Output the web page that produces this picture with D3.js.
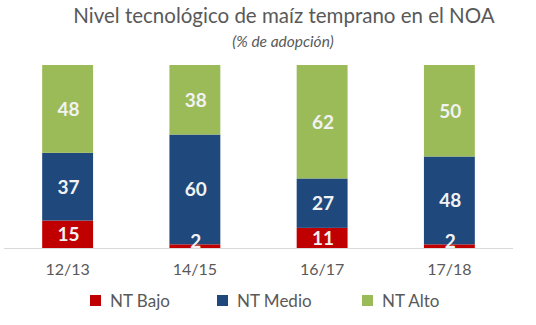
<!DOCTYPE html>
<html>
<head>
<meta charset="utf-8">
<script src="https://cdn.jsdelivr.net/npm/d3@7"></script>
<style>
  body { margin: 0; background: #fff; }
  text { font-family: Lato, "Open Sans", sans-serif; }
</style>
</head>
<body>
<svg id="chart" width="536" height="325"></svg>
<script>
const campaigns = ['12/13', '14/15', '16/17', '17/18'];
const seriesNames = ['NT Bajo', 'NT Medio', 'NT Alto'];
const ntBajo = [15, 2, 11, 2];
const ntMedio = [37, 60, 27, 48];
const ntAlto = [48, 38, 62, 50];
const colors = ['#C00000', '#1F497D', '#9BBB59'];

const rows = campaigns.map((c, i) => ({
  campaign: c, 'NT Bajo': ntBajo[i], 'NT Medio': ntMedio[i], 'NT Alto': ntAlto[i]
}));

const svg = d3.select('#chart');

const x = d3.scaleBand().domain(campaigns).range([4, 513]).paddingInner(0.6).paddingOuter(0.3);
const y = d3.scaleLinear().domain([0, 100]).range([248, 65]);
const color = d3.scaleOrdinal().domain(seriesNames).range(colors);

const stack = d3.stack().keys(seriesNames)(rows);

// title
svg.append('text')
  .attr('x', 284).attr('y', 23)
  .attr('text-anchor', 'middle')
  .attr('fill', '#595959')
  .style('font-size', '20.5px')
  .text('Nivel tecnológico de maíz temprano en el NOA');

svg.append('text')
  .attr('x', 283).attr('y', 47)
  .attr('text-anchor', 'middle')
  .attr('fill', '#595959')
  .style('font-size', '15.5px')
  .style('font-style', 'italic')
  .text('(% de adopción)');

const groups = svg.selectAll('g.series')
  .data(stack)
  .enter().append('g')
    .attr('class', 'series')
    .attr('fill', d => color(d.key));

groups.selectAll('rect')
  .data(d => d)
  .enter().append('rect')
    .attr('x', d => x(d.data.campaign))
    .attr('y', d => y(d[1]))
    .attr('width', x.bandwidth())
    .attr('height', d => y(d[0]) - y(d[1]));

// baseline
svg.append('line')
  .attr('x1', 4).attr('x2', 513)
  .attr('y1', y(0) + 0.5).attr('y2', y(0) + 0.5)
  .attr('stroke', '#D9D9D9');

// value labels on top of every segment
svg.append('g')
  .selectAll('text')
  .data(stack.flatMap(s => s))
  .enter().append('text')
    .attr('x', d => x(d.data.campaign) + x.bandwidth() / 2 + 1)
    .attr('y', d => Math.min((y(d[0]) + y(d[1])) / 2 + 7, 247.5))
    .attr('text-anchor', 'middle')
    .attr('fill', '#F2F2F2')
    .style('font-size', '19px')
    .style('font-weight', 'bold')
    .text(d => d[1] - d[0]);

// category axis
const xAxis = svg.append('g')
  .attr('transform', `translate(0,${y(0)})`)
  .call(d3.axisBottom(x).tickSize(0).tickPadding(16));
xAxis.select('.domain').remove();
xAxis.selectAll('text')
  .attr('fill', '#595959')
  .style('font-size', '16px')
  .style('font-family', 'Lato, "Open Sans", sans-serif');

// legend
const legendX = [90, 217, 362];
const legend = svg.selectAll('g.legend')
  .data(seriesNames)
  .enter().append('g')
    .attr('class', 'legend')
    .attr('transform', (d, i) => `translate(${legendX[i]},295)`);

legend.append('rect')
  .attr('width', 11).attr('height', 11)
  .attr('fill', d => color(d));

legend.append('text')
  .attr('x', 20).attr('y', 11.5)
  .attr('fill', '#595959')
  .style('font-size', '17px')
  .text(d => d);
</script>
</body>
</html>
